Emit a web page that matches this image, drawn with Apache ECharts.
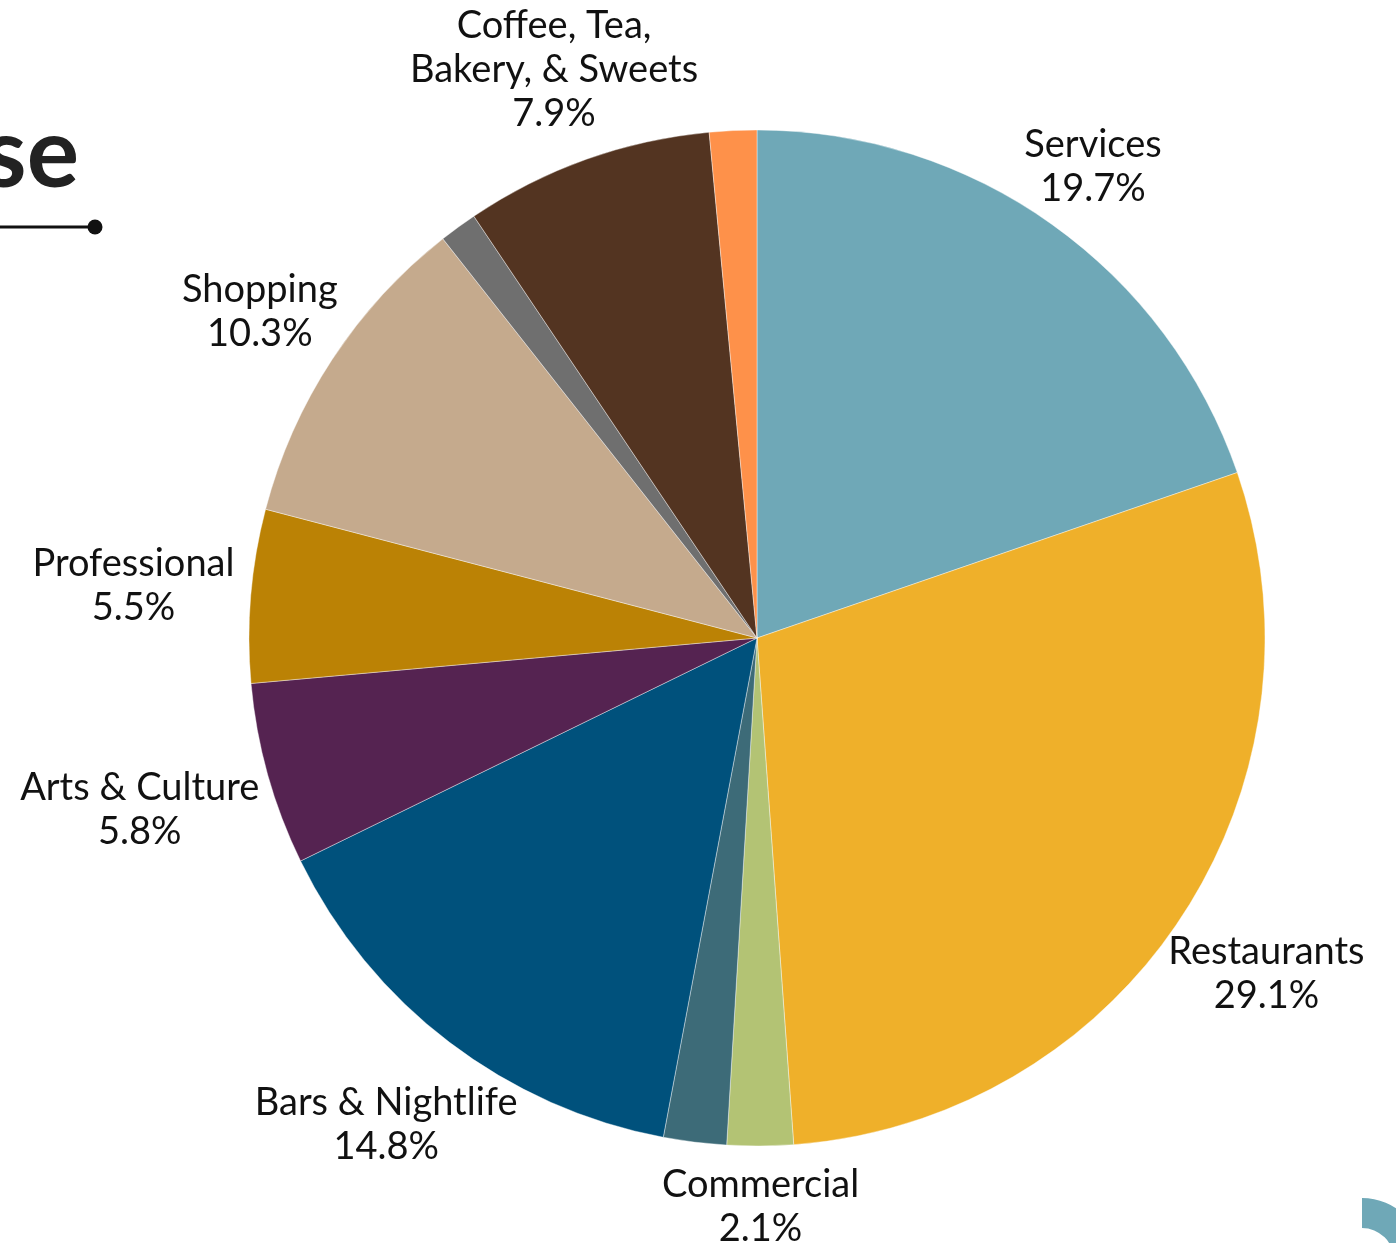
<!DOCTYPE html>
<html>
<head>
<meta charset="utf-8">
<script src="https://cdn.jsdelivr.net/npm/echarts@6/dist/echarts.min.js"></script>
<style>
html,body{margin:0;padding:0;background:#fff;}
#chart{width:1396px;height:1243px;}
</style>
</head>
<body>
<div id="chart"></div>
<script>
// ---- data ----
var categories = ["Services", "Restaurants", "Commercial", "", "Bars & Nightlife", "Arts & Culture", "Professional", "Shopping", "", "Coffee, Tea,\nBakery, & Sweets", ""];
var shares = [19.7, 29.1, 2.1, 2.0, 14.8, 5.8, 5.5, 10.3, 1.2, 7.9, 1.5];
var sliceColors = ["#6fa8b7", "#efb02a", "#b3c374", "#3d6b78", "#00517c", "#552351", "#bb8205", "#c5aa8d", "#6f6f6f", "#533421", "#fe914a"];
var titleFragment = "se";

// ---- layout ----
var CX = 757, CY = 638, R = 508, GAP = 17;
var FONT = "Lato";

var total = shares.reduce(function (a, b) { return a + b; }, 0);
var cum = [];
(function () { var s = 0; for (var i = 0; i < shares.length; i++) { cum.push(s + shares[i] / 2); s += shares[i]; } })();

var chart = echarts.init(document.getElementById('chart'), null, { renderer: 'canvas' });

var option = {
  backgroundColor: '#ffffff',
  animation: false,
  graphic: [
    { type: 'text', x: 79, y: 106,
      style: { text: titleFragment, fill: '#222222', font: 'bold 98px ' + FONT, align: 'right', verticalAlign: 'top' } },
    { type: 'line', shape: { x1: -5, y1: 227, x2: 95, y2: 227 }, style: { stroke: '#111111', lineWidth: 3 } },
    { type: 'circle', shape: { cx: 95, cy: 227, r: 7.5 }, style: { fill: '#111111' } },
    { type: 'sector', shape: { cx: 1362, cy: 1260, r: 62, r0: 32, startAngle: -Math.PI / 2, endAngle: 0 }, style: { fill: '#6fa8b7' } }
  ],
  series: [{
    type: 'pie',
    center: [CX, CY],
    radius: [0, R],
    startAngle: 90,
    clockwise: true,
    avoidLabelOverlap: false,
    itemStyle: { borderColor: '#ffffff', borderWidth: 0.4 },
    label: {
      show: true,
      position: 'outside',
      color: '#111111',
      fontFamily: FONT,
      fontSize: 38,
      lineHeight: 44,
      align: 'center',
      formatter: function (p) { return p.name + '\n' + p.value.toFixed(1) + '%'; }
    },
    labelLine: { show: false },
    labelLayout: function (params) {
      var i = params.dataIndex;
      var th = cum[i] / total * Math.PI * 2;
      var ux = Math.sin(th), uy = -Math.cos(th);
      var w = params.labelRect.width / 2, h = params.labelRect.height / 2;
      var t = R + GAP + Math.sqrt(w * w * ux * ux + h * h * uy * uy);
      return { x: CX + t * ux, y: CY + t * uy, align: 'center', verticalAlign: 'middle' };
    },
    emphasis: { disabled: true },
    data: shares.map(function (v, i) {
      return {
        name: categories[i],
        value: v,
        itemStyle: { color: sliceColors[i] },
        label: { show: categories[i] !== '' }
      };
    })
  }]
};
chart.setOption(option);
</script>
</body>
</html>
